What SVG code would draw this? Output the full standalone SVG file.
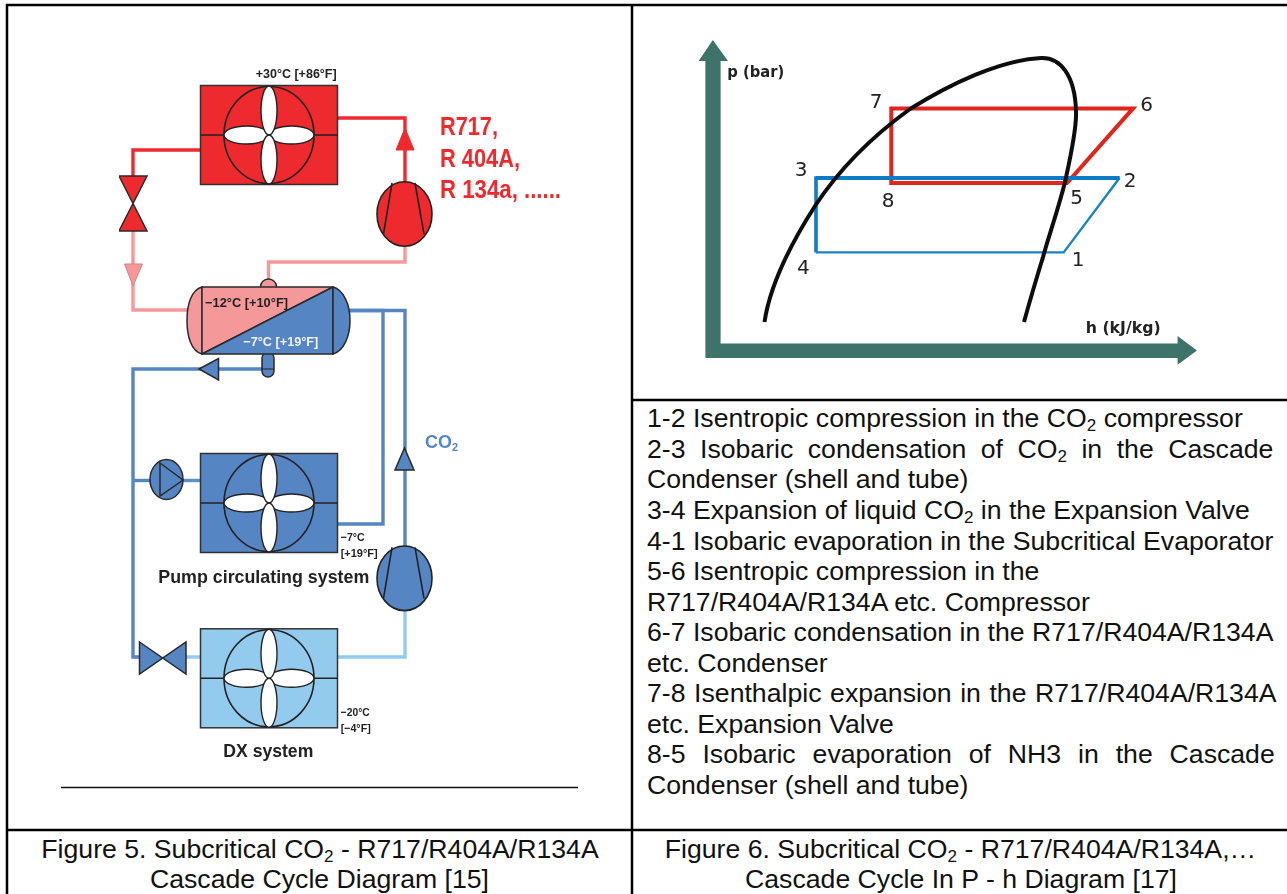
<svg xmlns="http://www.w3.org/2000/svg" width="1287" height="894" viewBox="0 0 1287 894">
<style>
text{font-family:"Liberation Sans",Arial,sans-serif}
.t{font-size:26.65px;fill:#111}
.s{font-size:17px}
.c{text-anchor:middle}
.b{font-weight:bold;fill:#222}
.frame{stroke:#000;stroke-width:2.5;fill:none}
.pipe{fill:none;stroke-width:3.4}
.red{stroke:#ee2a2e}.pink{stroke:#f4989a}.blue{stroke:#5585c3}.light{stroke:#92cbee}
.sym{stroke:#2a2a2a;stroke-width:1.5}
.fr{fill:#ee2a2e}.fp{fill:#f4989a}.fb{fill:#5585c3}.fl{fill:#92cbee}
.num{font-family:"DejaVu Sans",sans-serif;font-size:20px;fill:#222;text-anchor:middle}
.ax{font-family:"DejaVu Sans",sans-serif;font-weight:bold;font-size:15px;fill:#222}
</style>
<defs>
<filter id="soft" x="0" y="0" width="100%" height="100%"><feGaussianBlur stdDeviation="0.4"/></filter>
<g id="fan">
<rect x="-68.5" y="-49.5" width="137" height="99" stroke="#333" stroke-width="1.5"/>
<path d="M-68.5 0H-45M45 0H68.5" stroke="#222" stroke-width="1.5" fill="none"/>
<ellipse rx="45" ry="48.5" fill="none" stroke="#222" stroke-width="1.6"/>
<g fill="#fff" stroke="#222" stroke-width="1.4">
<ellipse cx="-22.5" rx="22.5" ry="9"/><ellipse cx="22.5" rx="22.5" ry="9"/>
<ellipse cy="-24.5" rx="8" ry="24.5"/><ellipse cy="24.5" rx="8" ry="24.5"/>
</g>
</g>
<g id="comp">
<ellipse rx="27.5" ry="32.3" stroke="#222" stroke-width="1.6"/>
<path d="M-12.5 -31L-21 20M10.5 -31L19.5 20" fill="none" stroke="#222" stroke-width="1.6"/>
</g>
</defs>

<g id="table">
<path class="frame" d="M7 894V5H1287M632 5V894M7 830H1287M632 400H1287"/>
<path d="M61 787.5H578" stroke="#111" stroke-width="1.5"/>
</g>

<g id="cycle-diagram" filter="url(#soft)">
<g id="connectors">
<path class="pipe red" d="M337 118H405V182"/>
<path class="pipe red" d="M200 150H133V176"/>
<path class="pipe pink" d="M133 231V310H190"/>
<path class="pipe pink" d="M405 246V262H268.500V282"/>
<path class="pipe blue" d="M348 310.500H405V546"/>
<path class="pipe blue" d="M348 310.500H383V524H337"/>
<path class="pipe blue" d="M264 369H133V657H140"/>
<path class="pipe blue" d="M133 480.500H152"/>
<path class="pipe" d="M180 480.500H200" style="stroke:#5f8fca"/>
<path class="pipe light" d="M184 657H200"/>
<path class="pipe light" d="M337 657H405V610"/>
</g>

<g id="condenser"><use href="#fan" x="269" y="135" class="fr"/></g>
<text x="255.700" y="78" class="b" font-size="12px" textLength="81" lengthAdjust="spacingAndGlyphs">+30°C [+86°F]</text>
<g id="arrow-red"><polygon points="405,128 414,150 396,150" class="fr" stroke="#ee2a2e"/></g>
<g id="compressor-red"><use href="#comp" x="404.500" y="214" class="fr"/></g>
<g id="valve-red"><polygon points="119,176 147,176 119,231 147,231" class="fr sym"/></g>
<g id="arrow-pink"><polygon points="124.500,264 142.500,264 133,286" class="fp" stroke="#d98083"/></g>

<g id="refrigerant-label" fill="#ee2a2e" font-weight="bold" font-size="25px">
<text x="440" y="135" textLength="58" lengthAdjust="spacingAndGlyphs">R717,</text>
<text x="440" y="166.700" textLength="80" lengthAdjust="spacingAndGlyphs">R 404A,</text>
<text x="440" y="198" textLength="121" lengthAdjust="spacingAndGlyphs">R 134a, ......</text>
</g>

<g id="cascade-tank">
<ellipse cx="268.500" cy="287" rx="8" ry="8" class="fp sym"/>
<rect x="262" y="352" width="12" height="25" rx="6" class="fb sym"/>
<path d="M262 369H274" stroke="#222" stroke-width="1"/>
<path d="M202 287C191 290 187 305 187 320.500C187 336 191 351 202 354Z" class="fp sym"/>
<polygon points="202,287 333,287 202,354" class="fp sym"/>
<polygon points="333,287 333,354 202,354" class="fb sym"/>
<path d="M333 287C344 290 350 305 350 320.500C350 336 344 351 333 354Z" class="fb sym"/>
<text x="205" y="306.700" class="b" font-size="13px" textLength="83" lengthAdjust="spacingAndGlyphs">−12°C [+10°F]</text>
<text x="243.300" y="345.700" font-weight="bold" fill="#f2f2f2" font-size="13px" textLength="75" lengthAdjust="spacingAndGlyphs">−7°C [+19°F]</text>
</g>
<g id="arrow-left"><polygon points="199,369 218.500,358.500 218.500,380" class="fb sym"/></g>

<g id="pump"><ellipse cx="166.500" cy="479.500" rx="16.500" ry="20" class="fb sym"/><polygon points="160,463 183,480 160,496" class="fb sym"/></g>
<g id="pump-evaporator"><use href="#fan" x="269" y="503" class="fb"/></g>
<text x="340.700" y="541" class="b" font-size="11.500px" textLength="24" lengthAdjust="spacingAndGlyphs">−7°C</text>
<text x="340.700" y="556.700" class="b" font-size="11.500px" textLength="37" lengthAdjust="spacingAndGlyphs">[+19°F]</text>
<text x="158.300" y="583.300" class="b" font-size="19px" textLength="211" lengthAdjust="spacingAndGlyphs">Pump circulating system</text>

<g id="arrow-co2"><polygon points="404.500,448 414,470 395,470" class="fb sym"/></g>
<text x="425" y="448.300" font-weight="bold" fill="#5585c3" font-size="18px" textLength="33" lengthAdjust="spacingAndGlyphs">CO<tspan font-size="11px" dy="3">2</tspan></text>
<g id="compressor-blue"><use href="#comp" x="404.500" y="578.300" class="fb"/></g>

<g id="dx-valve"><polygon points="139.500,642 186,674 186,642 139.500,674" class="fb sym"/></g>
<g id="dx-evaporator"><use href="#fan" x="269" y="678.300" class="fl"/></g>
<text x="340.700" y="716" class="b" font-size="11.500px" textLength="29" lengthAdjust="spacingAndGlyphs">−20°C</text>
<text x="340.700" y="731.700" class="b" font-size="11.500px" textLength="30" lengthAdjust="spacingAndGlyphs">[−4°F]</text>
<text x="223.300" y="756.700" class="b" font-size="19px" textLength="90" lengthAdjust="spacingAndGlyphs">DX system</text>
</g>

<g id="ph-diagram" filter="url(#soft)">
<g id="ph-axes" fill="#3d7369">
<path d="M705.400 358V61H698.600L712.800 40L728 61H720.600V343.400H1177.600V336L1197 350.500L1177.600 364.700V358Z"/>
</g>
<g id="ph-cycles" fill="none">
<path d="M816 252.400H1063.700L1119.500 178" stroke="#1b82c8" stroke-width="2.400"/>
<path d="M816 252.400V178H1119.500" stroke="#0b7cc6" stroke-width="3.600"/>
<path d="M891.300 183V108.400H1133L1067 183Z" stroke="#e0261f" stroke-width="4"/>
<path d="M816 178H1119.500" stroke="#0b7cc6" stroke-width="4"/>
<path d="M764.500 322C770 285 790 245 815 206C840 168 870 138 910 109C950 84 1000 60 1041 58C1060 57 1075 75 1076 111C1077 130 1068 168 1065 182C1058 210 1050 232 1043 257C1036 280 1030 300 1024 322" stroke="#111" stroke-width="4"/>
</g>
<g id="ph-labels">
<text class="num" x="876" y="108">7</text>
<text class="num" x="1146.500" y="111">6</text>
<text class="num" x="801" y="176">3</text>
<text class="num" x="1130" y="186.500">2</text>
<text class="num" x="1076.500" y="204">5</text>
<text class="num" x="888" y="207">8</text>
<text class="num" x="1078" y="265.600">1</text>
<text class="num" x="803.400" y="274">4</text>
<text class="ax" x="727.300" y="77" textLength="57" lengthAdjust="spacingAndGlyphs">p (bar)</text>
<text class="ax" x="1085.700" y="332.600" textLength="75" lengthAdjust="spacingAndGlyphs">h (kJ/kg)</text>
</g>
</g>

<g id="legend">
<text class="t" x="647" y="427">1-2 Isentropic compression in the CO<tspan class="s" dy="4">2</tspan><tspan dy="-4"> compressor</tspan></text>
<text class="t" x="647" y="457.500" word-spacing="7.1">2-3 Isobaric condensation of CO<tspan class="s" dy="4">2</tspan><tspan dy="-4"> in the Cascade</tspan></text>
<text class="t" x="647" y="488">Condenser (shell and tube)</text>
<text class="t" x="647" y="519">3-4 Expansion of liquid CO<tspan class="s" dy="4">2</tspan><tspan dy="-4"> in the Expansion Valve</tspan></text>
<text class="t" x="647" y="549.500">4-1 Isobaric evaporation in the Subcritical Evaporator</text>
<text class="t" x="647" y="580">5-6 Isentropic compression in the</text>
<text class="t" x="647" y="610.500">R717/R404A/R134A etc. Compressor</text>
<text class="t" x="647" y="641">6-7 Isobaric condensation in the R717/R404A/R134A</text>
<text class="t" x="647" y="671.500">etc. Condenser</text>
<text class="t" x="647" y="702" word-spacing="1.2">7-8 Isenthalpic expansion in the R717/R404A/R134A</text>
<text class="t" x="647" y="732.500">etc. Expansion Valve</text>
<text class="t" x="647" y="763" word-spacing="9.5">8-5 Isobaric evaporation of NH3 in the Cascade</text>
<text class="t" x="647" y="794">Condenser (shell and tube)</text>
</g>

<g id="captions">
<text class="t c" x="320" y="858">Figure 5. Subcritical CO<tspan class="s" dy="4">2</tspan><tspan dy="-4"> - R717/R404A/R134A</tspan></text>
<text class="t c" x="319.500" y="888">Cascade Cycle Diagram [15]</text>
<text class="t c" x="960.500" y="858">Figure 6. Subcritical CO<tspan class="s" dy="4">2</tspan><tspan dy="-4"> - R717/R404A/R134A,…</tspan></text>
<text class="t c" x="961" y="888">Cascade Cycle In P - h Diagram [17]</text>
</g>
</svg>
